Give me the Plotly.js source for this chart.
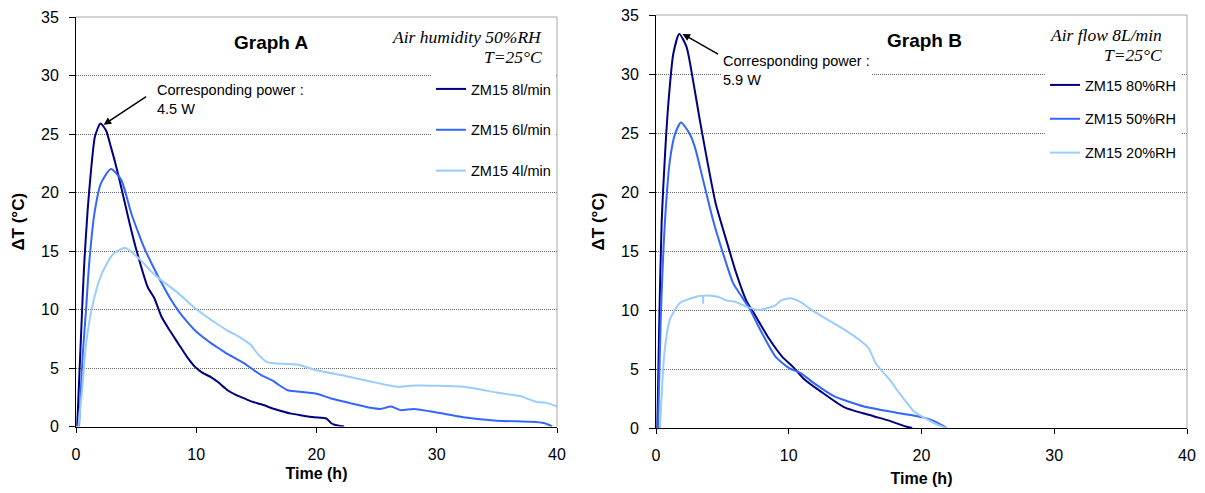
<!DOCTYPE html>
<html><head><meta charset="utf-8">
<script src="https://cdn.plot.ly/plotly-3.0.1.min.js"></script>
<style>body{margin:0;background:#fff}#chart{width:1205px;height:493px}</style>
</head><body><div id="chart"></div>
<script>
// ---------- Graph A (air humidity 50%RH) ----------
const timeA8 = [0.1, 0.55, 0.7, 0.97, 1.25, 1.58, 2.03, 2.5, 2.9, 3.3, 3.75, 4.45, 5.1, 5.97, 6.5, 7.1, 7.8, 8.5, 9.2, 9.9, 10.5, 11.25, 11.8, 12.6, 13.3, 14.0, 14.7, 15.4, 16.5, 17.9, 18.8, 19.8, 20.8, 21.2, 21.5, 22.3];
const dtA8   = [0, 11.0, 14.2, 18.5, 21.9, 24.8, 25.9, 25.3, 23.9, 22.4, 20.5, 17.4, 14.8, 11.9, 11.0, 9.4, 8.2, 7.1, 6.0, 5.1, 4.6, 4.2, 3.8, 3.1, 2.7, 2.4, 2.1, 1.9, 1.5, 1.1, 0.95, 0.8, 0.7, 0.3, 0.15, 0];
const timeA6 = [0.25, 0.55, 0.83, 1.1, 1.53, 2.08, 2.9, 3.75, 4.6, 5.2, 5.7, 6.4, 7.1, 7.8, 8.5, 9.2, 9.9, 10.6, 11.25, 12.0, 12.6, 13.3, 14.0, 14.8, 15.4, 16.4, 16.8, 17.6, 18.4, 19.2, 20.0, 21.2, 22.8, 24.5, 25.3, 26.2, 27.0, 28.1, 30.0, 32.2, 35.0, 37.8, 38.9, 39.3, 39.6];
const dtA6   = [0, 6.0, 9.9, 14.0, 18.2, 20.8, 22.0, 21.1, 18.2, 16.5, 15.2, 13.7, 12.3, 11.0, 9.9, 9.0, 8.2, 7.6, 7.1, 6.6, 6.2, 5.8, 5.4, 4.8, 4.4, 3.9, 3.6, 3.1, 3.0, 2.9, 2.8, 2.4, 2.0, 1.6, 1.5, 1.7, 1.4, 1.5, 1.2, 0.8, 0.5, 0.4, 0.3, 0.15, 0];
const timeA4 = [0.2, 0.5, 0.83, 1.4, 2.08, 2.9, 3.3, 4.1, 5.4, 6.2, 7.1, 8.5, 9.9, 11.25, 12.6, 13.5, 14.5, 15.2, 15.9, 16.5, 18.4, 20.0, 22.5, 25.6, 26.7, 28.1, 32.2, 35.0, 36.9, 38.3, 39.2, 40];
const dtA4   = [0, 3.0, 7.0, 10.5, 12.9, 14.5, 14.9, 15.25, 14.2, 13.3, 12.5, 11.4, 10.1, 9.1, 8.2, 7.7, 7.0, 6.1, 5.5, 5.4, 5.3, 4.8, 4.3, 3.6, 3.4, 3.5, 3.4, 2.9, 2.6, 2.1, 2.0, 1.7];
const namesA = ['ZM15 8l/min', 'ZM15 6l/min', 'ZM15 4l/min'];

// ---------- Graph B (air flow 8L/min) ----------
const timeB80 = [0.1, 0.25, 0.43, 0.68, 0.93, 1.3, 1.75, 2.3, 2.8, 3.3, 3.9, 4.5, 5.3, 6.05, 6.8, 7.5, 8.5, 9.5, 10.3, 11.1, 12.4, 14.2, 16.4, 17.6, 18.9, 19.3];
const dtB80   = [0, 9.2, 17.6, 23.2, 27.5, 31.7, 33.4, 32.3, 29.4, 26.1, 22.4, 19.0, 15.9, 13.1, 10.8, 9.5, 7.6, 6.05, 5.2, 4.2, 3.1, 1.75, 1.0, 0.6, 0.1, 0];
const timeB50 = [0.15, 0.35, 0.68, 1.05, 1.43, 1.88, 2.55, 2.93, 3.55, 4.3, 5.05, 5.8, 6.3, 7.05, 8.0, 9.0, 10.0, 10.9, 11.9, 13.4, 15.6, 18.1, 20.1, 20.9, 21.6, 21.9];
const dtB50   = [0, 9.0, 17.6, 22.7, 24.9, 25.9, 24.9, 23.8, 21.0, 17.6, 14.8, 12.3, 11.4, 10.1, 8.0, 6.05, 5.1, 4.65, 3.8, 2.7, 1.85, 1.3, 0.9, 0.6, 0.2, 0];
const timeB20 = [0.3, 0.63, 1.05, 1.8, 2.66, 3.5, 3.55, 3.6, 4.7, 5.3, 5.95, 7.0, 7.8, 9.0, 9.4, 10.15, 11.0, 11.6, 12.6, 14.1, 15.4, 16.0, 16.6, 17.6, 18.4, 19.4, 20.4, 21.1, 21.9];
const dtB20   = [0, 6.3, 9.2, 10.6, 11.0, 11.2, 10.6, 11.2, 11.1, 10.8, 10.7, 10.2, 10.0, 10.4, 10.8, 11.0, 10.6, 10.1, 9.4, 8.4, 7.4, 6.8, 5.4, 4.1, 2.85, 1.45, 0.75, 0.33, 0];
const namesB = ['ZM15 80%RH', 'ZM15 50%RH', 'ZM15 20%RH'];

const xTicks = [0, 10, 20, 30, 40];
const yTicks = [0, 5, 10, 15, 20, 25, 30, 35];

// ---------- styling ----------
const W = 1205, H = 493;
const fx = px => px / W;
const fy = py => 1 - py / H;
const colors = ['#000080', '#3366FF', '#99CCFF'];
const SANS = 'Liberation Sans, Arial, sans-serif';
const SERIF = 'Liberation Serif, Times New Roman, serif';

function tr(x, y, name, i, xa, ya, leg) {
  return {x: x, y: y, name: name, type: 'scatter', mode: 'lines',
    xaxis: xa, yaxis: ya, legend: leg, legendgroup: leg + i,
    line: {color: colors[i], width: 2, shape: 'spline', smoothing: 0.6}, hoverinfo: 'skip'};
}
const data = [
  tr(timeA8, dtA8, namesA[0], 0, 'x', 'y', 'legend'),
  tr(timeA6, dtA6, namesA[1], 1, 'x', 'y', 'legend'),
  tr(timeA4, dtA4, namesA[2], 2, 'x', 'y', 'legend'),
  tr(timeB80, dtB80, namesB[0], 0, 'x2', 'y2', 'legend2'),
  tr(timeB50, dtB50, namesB[1], 1, 'x2', 'y2', 'legend2'),
  tr(timeB20, dtB20, namesB[2], 2, 'x2', 'y2', 'legend2')
];

function xax(dom, anchor, standoff) {
  return {domain: dom, anchor: anchor, range: [0, 40], tickvals: xTicks, ticktext: xTicks.map(String),
    ticks: 'outside', ticklen: 5, tickcolor: '#000', showline: true, linecolor: '#000', linewidth: 1,
    showgrid: false, zeroline: false, automargin: false, ticklabelstandoff: 8,
    tickfont: {family: SANS, size: 16, color: '#000'},
    title: {text: '<b>Time (h)</b>', font: {family: SANS, size: 16, color: '#000'}, standoff: standoff}};
}
function yax(dom, anchor) {
  return {domain: dom, anchor: anchor, range: [0, 35], tickvals: yTicks, ticktext: yTicks.map(String),
    ticks: 'outside', ticklen: 6, tickcolor: '#000', showline: true, linecolor: '#000', linewidth: 1,
    showgrid: true, gridcolor: '#666', griddash: '1px,1px', gridwidth: 1, zeroline: false, automargin: false,
    ticklabelstandoff: 7,
    tickfont: {family: SANS, size: 16, color: '#000'},
    title: {text: '<b>ΔT (°C)</b>', font: {family: SANS, size: 17, color: '#000'}, standoff: 12}};
}
function leg(x, y, gap) {
  return {x: x, y: y, xanchor: 'left', yanchor: 'top', bgcolor: '#fff', borderwidth: 0,
    font: {family: SANS, size: 14.5, color: '#000'}, traceorder: 'grouped', tracegroupgap: gap,
    itemwidth: 30};
}
const border = (xr, yr) => [
  {type: 'line', xref: xr + ' domain', yref: yr + ' domain', x0: 0, x1: 1, y0: 1, y1: 1, line: {color: '#a6a6a6', width: 1}},
  {type: 'line', xref: xr + ' domain', yref: yr + ' domain', x0: 1, x1: 1, y0: 0, y1: 1, line: {color: '#a6a6a6', width: 1}}
];
function note(px, py, text, opts) {
  return Object.assign({xref: 'paper', yref: 'paper', x: fx(px), y: fy(py), text: text, showarrow: false}, opts);
}

const layout = {
  width: W, height: H, margin: {l: 0, r: 0, t: 0, b: 0},
  paper_bgcolor: '#fff', plot_bgcolor: '#fff', showlegend: true,
  xaxis: xax([fx(76), fx(557)], 'y', 6),
  yaxis: yax([fy(426.5), fy(17)], 'x'),
  xaxis2: xax([fx(656), fx(1187)], 'y2', 9),
  yaxis2: yax([fy(428), fy(15)], 'x2'),
  legend: leg(fx(431), fy(73), 19),
  legend2: leg(fx(1045), fy(69), 12),
  shapes: border('x', 'y').concat(border('x2', 'y2')),
  annotations: [
    note(271, 43, '<b>Graph A</b>', {font: {family: SANS, size: 19, color: '#000'}, xanchor: 'center', yanchor: 'middle'}),
    note(544, 37, '<i>Air humidity 50%RH</i>', {font: {family: SERIF, size: 17.5, color: '#000'}, xanchor: 'right', yanchor: 'middle'}),
    note(544, 57, '<i>T=25°C</i>', {font: {family: SERIF, size: 17.5, color: '#000'}, xanchor: 'right', yanchor: 'middle'}),
    note(155, 80, 'Corresponding power :<br>4.5 W', {font: {family: SANS, size: 14.5, color: '#000'}, xanchor: 'left', yanchor: 'top', align: 'left'}),
    {xref: 'x', yref: 'y', x: 2.3, y: 25.8, ax: 44, ay: -29, text: '', showarrow: true,
      arrowhead: 2, arrowsize: 1, arrowwidth: 1.5, arrowcolor: '#000'},
    note(924, 40, '<b>Graph B</b>', {font: {family: SANS, size: 19, color: '#000'}, xanchor: 'center', yanchor: 'middle'}),
    note(1164, 35, '<i>Air flow 8L/min</i>', {font: {family: SERIF, size: 17.5, color: '#000'}, xanchor: 'right', yanchor: 'middle'}),
    note(1164, 55, '<i>T=25°C</i>', {font: {family: SERIF, size: 17.5, color: '#000'}, xanchor: 'right', yanchor: 'middle'}),
    note(721, 51, 'Corresponding power :<br>5.9 W', {font: {family: SANS, size: 14.5, color: '#000'}, xanchor: 'left', yanchor: 'top', align: 'left', bgcolor: '#fff', borderpad: 1}),
    {xref: 'x2', yref: 'y2', x: 2.0, y: 33.4, ax: 37, ay: 21, text: '', showarrow: true,
      arrowhead: 2, arrowsize: 1, arrowwidth: 1.5, arrowcolor: '#000'}
  ]
};

Plotly.newPlot('chart', data, layout, {displayModeBar: false, staticPlot: true});
</script>
</body></html>
